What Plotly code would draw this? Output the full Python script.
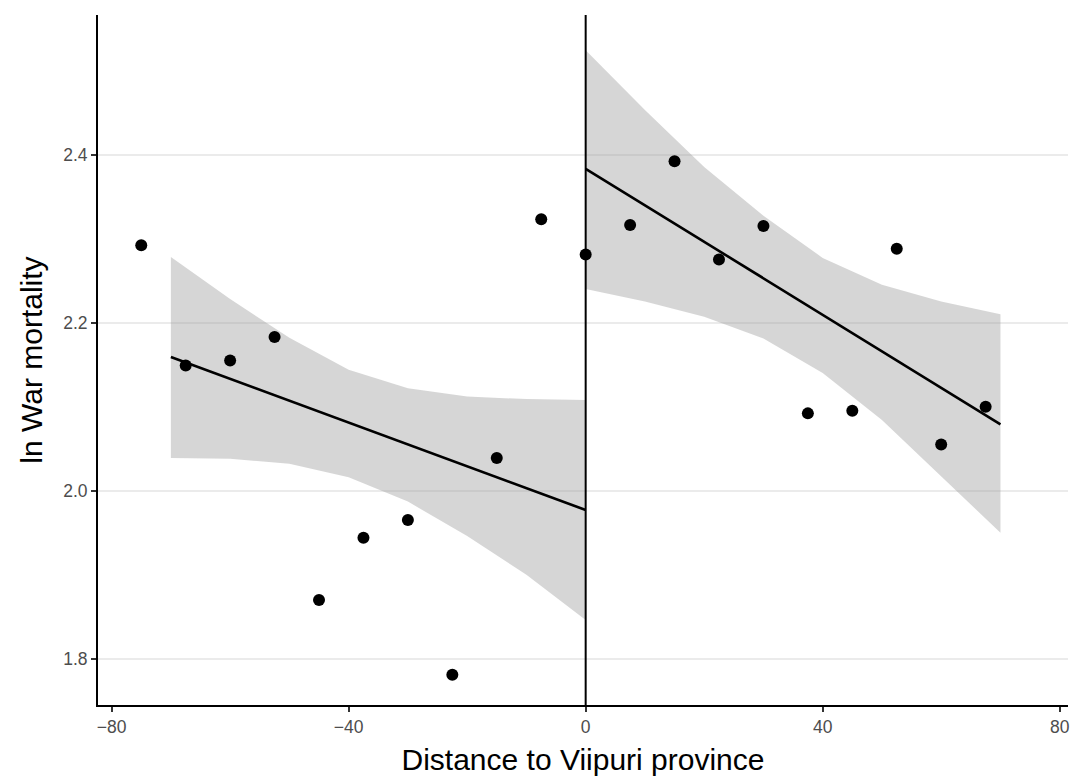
import plotly.graph_objects as go

# Binned data points
dist = [-75, -67.5, -60, -52.5, -45, -37.5, -30, -22.5, -15, -7.5, 0,
        7.5, 15, 22.5, 30, 37.5, 45, 52.5, 60, 67.5]
mortality = [2.292, 2.149, 2.155, 2.183, 1.870, 1.944, 1.965, 1.781, 2.039, 2.323, 2.281,
             2.316, 2.392, 2.275, 2.315, 2.092, 2.095, 2.288, 2.055, 2.100]

# Fitted lines (left / right of the border)
fit_left_x = [-70, 0]
fit_left_y = [2.159, 1.977]
fit_right_x = [0, 70]
fit_right_y = [2.383, 2.079]

# Confidence ribbons
rib_left_x = [-70, -60, -50, -40, -30, -20, -10, 0]
rib_left_hi = [2.278, 2.228, 2.182, 2.144, 2.122, 2.112, 2.109, 2.108]
rib_left_lo = [2.039, 2.038, 2.032, 2.016, 1.987, 1.946, 1.900, 1.846]
rib_right_x = [0, 10, 20, 30, 40, 50, 60, 70]
rib_right_hi = [2.524, 2.453, 2.385, 2.327, 2.277, 2.245, 2.225, 2.210]
rib_right_lo = [2.240, 2.225, 2.207, 2.181, 2.140, 2.084, 2.017, 1.950]

x_ticks = [-80, -40, 0, 40, 80]
y_ticks = [1.8, 2.0, 2.2, 2.4]

FONT = "Liberation Sans, Arial, sans-serif"
RIB = "rgba(153,153,153,0.4)"

fig = go.Figure()
for rx, hi, lo in [(rib_left_x, rib_left_hi, rib_left_lo),
                   (rib_right_x, rib_right_hi, rib_right_lo)]:
    fig.add_trace(go.Scatter(x=rx + rx[::-1], y=hi + lo[::-1], fill="toself",
                             fillcolor=RIB, line=dict(width=0), mode="lines",
                             hoverinfo="skip", showlegend=False))
for fx, fy in [(fit_left_x, fit_left_y), (fit_right_x, fit_right_y)]:
    fig.add_trace(go.Scatter(x=fx, y=fy, mode="lines",
                             line=dict(color="black", width=2.6), showlegend=False))

fig.add_shape(type="line", x0=0, x1=0, xref="x", y0=0, y1=1, yref="paper",
              line=dict(color="black", width=2))

fig.add_trace(go.Scatter(x=dist, y=mortality, mode="markers",
                         marker=dict(color="black", size=12, line=dict(width=0)),
                         showlegend=False))

fig.update_layout(
    width=1074, height=778,
    margin=dict(l=98, r=6, t=15, b=73),
    paper_bgcolor="white", plot_bgcolor="white",
    font=dict(family=FONT, color="black"),
    showlegend=False,
)
fig.update_xaxes(
    range=[-82.3, 81.4], tickvals=x_ticks, showgrid=False, zeroline=False,
    showline=True, linecolor="black", linewidth=2,
    ticks="outside", ticklen=5, tickwidth=1.5, tickcolor="#333333",
    tickfont=dict(size=17.5, color="#4D4D4D", family=FONT),
    title=dict(text="Distance to Viipuri province", font=dict(size=30, color="black"), standoff=13),
    automargin=False,
)
fig.update_yaxes(
    range=[1.745, 2.566], tickvals=y_ticks, tickformat=".1f",
    showgrid=True, gridcolor="#EBEBEB", gridwidth=1.7, zeroline=False,
    showline=True, linecolor="black", linewidth=2,
    ticks="outside", ticklen=5, tickwidth=1.5, tickcolor="#333333",
    tickfont=dict(size=17.5, color="#4D4D4D", family=FONT),
    title=dict(text="ln War mortality", font=dict(size=30, color="black"), standoff=12),
    automargin=False,
)

fig.write_html("out.html")
